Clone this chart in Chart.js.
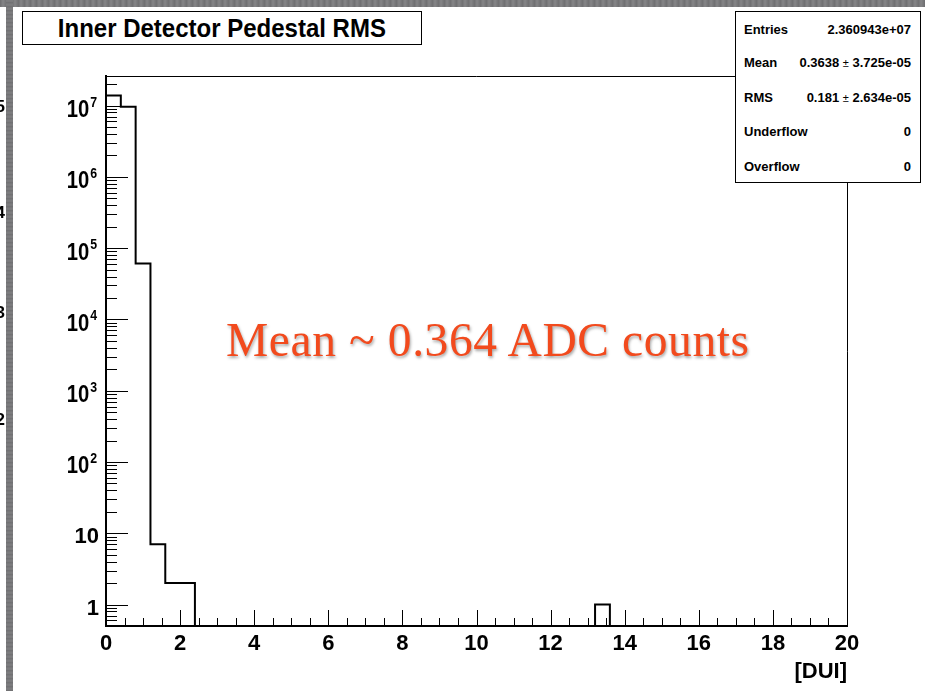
<!DOCTYPE html>
<html>
<head>
<meta charset="utf-8">
<script src="https://cdn.jsdelivr.net/npm/chart.js@4.4.1/dist/chart.umd.min.js"></script>
<style>
  html, body { margin: 0; padding: 0; background: #fff; }
  #page { position: relative; width: 925px; height: 691px; overflow: hidden; background: #fff;
          font-family: "Liberation Sans", Arial, sans-serif; font-weight: bold; }
  #chart { position: absolute; left: 0; top: 0; }
  .stripe { position: absolute; background: repeating-linear-gradient(0deg, #6d6d6f 0px, #808082 2px, #747476 4px); }
  .stripe.top { background: repeating-linear-gradient(90deg, #6d6d6f 0px, #858587 3px, #737375 6px); }
  #edge { position: absolute; left: 0; top: 0; width: 6px; height: 691px; overflow: hidden; }
  #edge div { position: absolute; right: 1px; font-size: 17px; line-height: 20px; }
  #title { position: absolute; left: 22px; top: 11px; width: 398px; height: 32px; border: 1px solid #000;
           background: #fff; text-align: center; font-size: 25px; line-height: 33px; }
  #title span { display: inline-block; transform: scaleX(0.96); }
  #stats { position: absolute; left: 735px; top: 11px; width: 184px; height: 170px; border: 1px solid #000;
           background: #fff; font-size: 13px; }
  #stats .row { position: absolute; left: 8px; right: 9px; height: 18px; line-height: 18px; }
  #stats .row > span { position: absolute; top: 0; white-space: nowrap; }
  #stats .row > .k { left: 0; }
  #stats .row > .v { right: 0; }
  #stats .pm { font-weight: normal; font-size: 11px; }
  #note { position: absolute; left: 226px; top: 313px; font-family: "Liberation Serif", "DejaVu Serif", serif;
          font-weight: normal; font-size: 47.5px; letter-spacing: 0.6px; color: #f24a1d; white-space: nowrap;
          text-shadow: 1px 2px 3px rgba(0,0,0,0.35); }
</style>
</head>
<body>
<div id="page">
  <canvas id="chart" width="925" height="691"></canvas>
  <div class="stripe top" style="left:0;top:0;width:925px;height:7px;"></div>
  <div class="stripe" style="left:6px;top:0;width:7px;height:691px;"></div>
  <div id="edge">
    <div style="top:97px">5</div>
    <div style="top:203px">4</div>
    <div style="top:303px">3</div>
    <div style="top:410px">2</div>
  </div>
  <div id="title"><span>Inner Detector Pedestal RMS</span></div>
  <div id="stats"></div>
  <div id="note">Mean ~ 0.364 ADC counts</div>
</div>
<script>
"use strict";

// ----- data ---------------------------------------------------------------- //
const BIN_WIDTH = 0.4;
// one count per 0.4-wide bin from 0 to 20
const COUNTS = [
  1.39e7, 9.6e6, 6.1e4, 7, 2, 2, 0, 0, 0, 0,
  0, 0, 0, 0, 0, 0, 0, 0, 0, 0,
  0, 0, 0, 0, 0, 0, 0, 0, 0, 0,
  0, 0, 0, 1, 0, 0, 0, 0, 0, 0,
  0, 0, 0, 0, 0, 0, 0, 0, 0, 0,
];

const Y_MIN = 0.5;
const Y_MAX = 2.6e7;

const X_TICK_VALUES = [0, 2, 4, 6, 8, 10, 12, 14, 16, 18, 20];
const X_TICK_LABELS = ["0", "2", "4", "6", "8", "10", "12", "14", "16", "18", "20"];
const Y_TICK_VALUES = [1, 10, 1e2, 1e3, 1e4, 1e5, 1e6, 1e7];
const Y_TICK_LABELS = ["1", "10", "10^2", "10^3", "10^4", "10^5", "10^6", "10^7"];

const STATS_KEYS = ["Entries", "Mean", "RMS", "Underflow", "Overflow"];
const STATS_VALUES = ["2.360943e+07", "0.3638 ± 3.725e-05", "0.181 ± 2.634e-05", "0", "0"];

// ----- stats box ----------------------------------------------------------- //
const ROW_TOPS = [9, 42, 77, 111, 146];
document.getElementById("stats").innerHTML = STATS_KEYS.map((k, i) => `
  <div class="row" style="top:${ROW_TOPS[i]}px">
    <span class="k">${k}</span>
    <span class="v">${STATS_VALUES[i].replace("±", '<span class="pm">±</span>')}</span>
  </div>`).join("");

// ----- histogram outline --------------------------------------------------- //
// stepped 'after': each point closes its bin at the right edge.
// empty bins sit on the axis floor (a log axis cannot show 0)
const points = [{ x: 0, y: Y_MIN }].concat(
  COUNTS.map((c, i) => ({ x: +((i + 1) * BIN_WIDTH).toFixed(1), y: c > 0 ? c : Y_MIN }))
);

const FONT = '"Liberation Sans", Arial, sans-serif';

function isDecade(v) {
  const l = Math.log10(v);
  return Math.abs(l - Math.round(l)) < 1e-9;
}

// ticks drawn inward like ROOT, the thin top / right frame, and 10^n labels
const rootAxes = {
  id: "rootAxes",
  afterDatasetsDraw(chart) {
    const { ctx, chartArea: a, scales: { x, y } } = chart;
    ctx.save();
    ctx.strokeStyle = "#000";
    ctx.lineWidth = 1;
    ctx.beginPath();
    x.ticks.forEach(t => {
      if (t.value <= 0 || t.value >= 20) return;
      const px = Math.round(x.getPixelForValue(t.value)) + 0.5;
      const len = t.value % 2 === 0 ? 16 : 8;
      ctx.moveTo(px, a.bottom);
      ctx.lineTo(px, a.bottom - len);
    });
    y.ticks.forEach(t => {
      const py = Math.round(y.getPixelForValue(t.value)) + 0.5;
      const len = isDecade(t.value) ? 22 : 11;
      ctx.moveTo(a.left, py);
      ctx.lineTo(a.left + len, py);
    });
    ctx.moveTo(a.left, Math.round(a.top) + 0.5);
    ctx.lineTo(Math.round(a.right) + 0.5, Math.round(a.top) + 0.5);
    ctx.lineTo(Math.round(a.right) + 0.5, a.bottom);
    ctx.stroke();

    ctx.fillStyle = "#000";
    ctx.textAlign = "right";
    ctx.textBaseline = "alphabetic";
    Y_TICK_VALUES.forEach((v, i) => {
      const py = y.getPixelForValue(v);
      const [base, exp] = Y_TICK_LABELS[i].split("^");
      if (!exp) {
        ctx.font = `bold 22px ${FONT}`;
        ctx.fillText(base, a.left - 7, py + 10);
        return;
      }
      ctx.save();
      ctx.translate(a.left - 9, py);
      ctx.scale(0.88, 1);
      ctx.font = `bold 14px ${FONT}`;
      ctx.fillText(exp, 0, 1);
      const ew = ctx.measureText(exp).width;
      ctx.font = `bold 23px ${FONT}`;
      ctx.fillText(base, -ew - 1, 11.5);
      ctx.restore();
    });
    ctx.restore();
  },
};

new Chart(document.getElementById("chart"), {
  type: "line",
  data: {
    datasets: [{
      data: points,
      stepped: "after",
      borderColor: "#000",
      borderWidth: 2,
      borderJoinStyle: "miter",
      borderCapStyle: "butt",
      pointRadius: 0,
      fill: false,
      clip: 4,
    }],
  },
  options: {
    responsive: false,
    animation: false,
    events: [],
    layout: { padding: { top: 76, right: 78, left: 0, bottom: 0 } },
    plugins: { legend: { display: false }, tooltip: { enabled: false } },
    scales: {
      x: {
        type: "linear", min: 0, max: 20,
        grid: { display: false, drawTicks: false },
        border: { display: true, color: "#000", width: 2 },
        ticks: {
          color: "#000", padding: 5, autoSkip: false, maxRotation: 0,
          font: { family: FONT, size: 22, weight: "bold" },
          callback: v => {
            const i = X_TICK_VALUES.indexOf(v);
            return i >= 0 ? X_TICK_LABELS[i] : "";
          },
        },
        afterBuildTicks: s => {
          const t = [];
          for (let v = 0; v <= 20; v += 0.5) t.push({ value: v });
          s.ticks = t;
        },
        afterFit: s => { s.height = 65; },
        title: {
          display: true, text: "[DUI]", align: "end", color: "#000",
          font: { family: FONT, size: 22, weight: "bold" },
          padding: { top: 0, bottom: 6 },
        },
      },
      y: {
        type: "logarithmic", min: Y_MIN, max: Y_MAX,
        grid: { display: false, drawTicks: false },
        border: { display: true, color: "#000", width: 2 },
        ticks: { display: false },
        afterBuildTicks: s => {
          const t = [];
          Y_TICK_VALUES.forEach(d => {
            for (let m = 1; m < 10; m++) {
              const v = m * d;
              if (v <= s.max) t.push({ value: v });
            }
          });
          [0.6, 0.7, 0.8, 0.9].forEach(v => t.unshift({ value: v }));
          s.ticks = t.sort((a, b) => a.value - b.value);
        },
        afterFit: s => { s.width = 106; },
      },
    },
  },
  plugins: [rootAxes],
});
</script>
</body>
</html>
